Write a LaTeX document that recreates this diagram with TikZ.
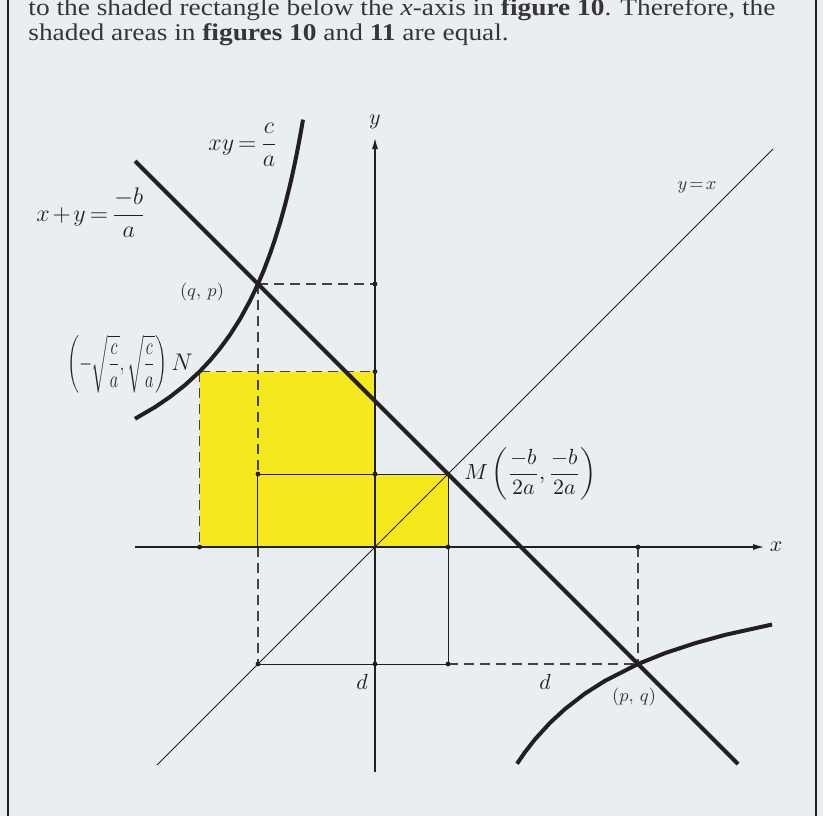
\documentclass[tikz,border=0pt]{standalone}
\usepackage{amsmath}
\usepackage{graphicx}
\usepackage{fontspec}
\setmainfont{Liberation Serif}[FakeStretch=1.14]
\usetikzlibrary{arrows.meta}
\definecolor{bg}{RGB}{233,238,242}
\definecolor{ink}{RGB}{35,31,32}
\definecolor{yfill}{RGB}{245,233,30}
\newcommand{\tightmath}{\thickmuskip=3mu\medmuskip=2mu}
\tikzset{
  thinline/.style={draw=ink, line width=0.5pt},
  dashline/.style={draw=ink!85, line width=0.55pt, dash pattern=on 5pt off 3pt},
  heavy/.style={draw=ink, line width=2pt, line join=round},
  axisline/.style={draw=ink, line width=0.9pt, -{Latex[length=6pt,width=3pt]}},
  dot/.style={circle, fill=ink, inner sep=0pt, minimum size=2.4pt},
  biglab/.style={font=\fontsize{11}{13}\selectfont\tightmath, text=ink, inner sep=0pt},
  hugelab/.style={font=\fontsize{12.5}{14}\selectfont\tightmath, text=ink, inner sep=0pt},
  smalllab/.style={font=\fontsize{9}{11}\selectfont, text=ink!90, inner sep=0pt},
  bodytext/.style={font=\fontsize{12}{13}\selectfont, text=ink!90, inner sep=0pt, anchor=base west}
}
\begin{document}
\begin{tikzpicture}[x=0.5pt,y=0.5pt]
\useasboundingbox (-375,-269) rectangle (448,547);
\fill[bg] (-375,-269) rectangle (448,547);
\clip (-375,-269) rectangle (448,547);
% body text
\node[bodytext] (t1) at (-347,532) {to the shaded rectangle below the \textit{x}-axis in \textbf{figure 10}. Therefore, the};
\node[bodytext] (t2) at (-347,507) {shaded areas in \textbf{figures 10} and \textbf{11} are equal.};
% box sides
\coordinate (bl1) at (-366.5,547);
\coordinate (bl2) at (-366.5,-269);
\coordinate (br1) at (441,547);
\coordinate (br2) at (441,-269);
\draw[ink, line width=1pt] (bl1) -- (bl2);
\draw[ink, line width=1pt] (br1) -- (br2);
% key points
\coordinate (O) at (0,0);
\coordinate (N) at (-175.4,175.4);
\coordinate (QP) at (-117,263);
\coordinate (M) at (73,73);
\coordinate (PQ) at (263,-117);
\coordinate (QQ) at (-117,-117);
\coordinate (A1) at (0,263);
\coordinate (A2) at (0,175.4);
\coordinate (Nx) at (-175.4,0);
\coordinate (Qm) at (-117,73);
\coordinate (Ym) at (0,73);
\coordinate (Mx) at (73,0);
\coordinate (Q0) at (-117,0);
\coordinate (Mq) at (73,-117);
\coordinate (Yq) at (0,-117);
\coordinate (Px) at (263,0);
% shading
\fill[yfill] (Nx) -- (N) -- (A2) -- (Ym) -- (M) -- (Mx) -- cycle;
% thin solid rectangle lines
\draw[thinline] (Qm) -- (M);
\draw[thinline] (Qm) -- (Q0);
\draw[thinline] (M) -- (Mq);
\draw[thinline] (QQ) -- (Mq);
% dashed lines
\draw[dashline] (QP) -- (A1);
\draw[dashline] (QP) -- (Qm);
\draw[dashline] (Q0) -- (QQ);
\draw[dashline] (N) -- (A2);
\draw[dashline] (N) -- (Nx);
\draw[dashline] (Mq) -- (PQ);
\draw[dashline] (Px) -- (PQ);
% y = x
\coordinate (D1) at (-218,-218);
\coordinate (D2) at (398,398);
\draw[thinline, line width=0.45pt] (D1) -- (D2);
% axes
\coordinate (xs) at (-240,0);
\coordinate (xe) at (390,0);
\coordinate (ys) at (0,-225);
\coordinate (ye) at (0,410);
\draw[axisline] (xs) -- (xe);
\draw[axisline] (ys) -- (ye);
\node[biglab] (xl) at (401,0) {$x$};
\node[biglab] (yl) at (0,425) {$y$};
% x + y = -b/a
\coordinate (L1) at (-240,386);
\coordinate (L2) at (363,-217);
\draw[heavy] (L1) -- (L2);
% hyperbola xy = const
\draw[heavy] (-72,427.4) -- (-74,415.8) -- (-76,404.9) -- (-78,394.5) -- (-80,384.6)
  -- (-83,370.7) -- (-86,357.8) -- (-90,341.9) -- (-95,323.9) -- (-100,307.7)
  -- (-105,293.1) -- (-111,277.2) -- (-117,263.0) -- (-125,246.2) -- (-135,227.9)
  -- (-145,212.2) -- (-155,198.5) -- (-165,186.5) -- (-175.4,175.4) -- (-190,161.9)
  -- (-205,150.1) -- (-220,139.9) -- (-240,128.2);
\draw[heavy] (142,-216.7) -- (150,-205.1) -- (160,-192.3) -- (175,-175.8) -- (190,-162.0)
  -- (210,-146.5) -- (230,-133.8) -- (263,-117.0) -- (290,-106.1) -- (320,-96.2)
  -- (350,-87.9) -- (397,-77.5);
% dots
\foreach \p [count=\i] in {A1,A2,Nx,Qm,Ym,Mx,QQ,Yq,Mq,Px}
  \node[dot] (dot\i) at (\p) {};
% labels
\node[hugelab] (lxy) at (-132,402) {$xy=\dfrac{c}{a}$};
\node[hugelab] (lsum) at (-284,334) {$x+y=\dfrac{-b}{a}$};
\node[smalllab] (lyx) at (322,360) {$y\!=\!x$};
\node[smalllab] (lqp) at (-173,255) {$(q,\,p)$};
\node[smalllab] (lpq) at (259,-150) {$(p,\,q)$};
\node[hugelab, anchor=east] (lN) at (-182,183) {\scalebox{0.68}[1]{$\left(-\sqrt{\dfrac{c}{a}},\sqrt{\dfrac{c}{a}}\right)$}\,$N$};
\node[biglab, anchor=west] (lM) at (89,73) {$M\left(\dfrac{-b}{2a},\dfrac{-b}{2a}\right)$};
\node[biglab] (ld1) at (-13,-135) {$d$};
\node[biglab] (ld2) at (170,-135) {$d$};
\end{tikzpicture}
\end{document}
